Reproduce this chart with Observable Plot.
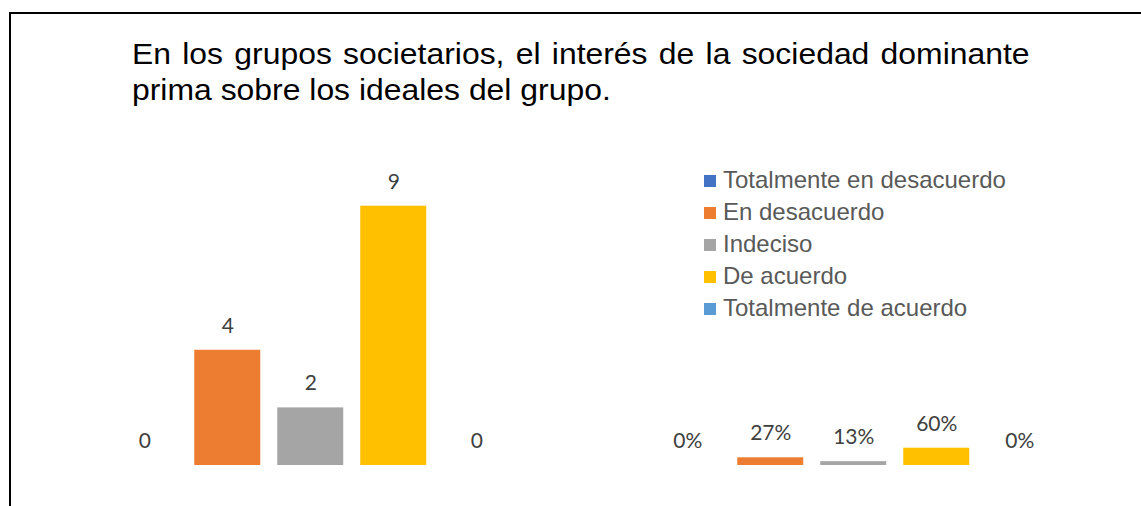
<!DOCTYPE html>
<html>
<head>
<meta charset="utf-8">
<script src="https://cdn.jsdelivr.net/npm/d3@7"></script>
<script src="https://cdn.jsdelivr.net/npm/@observablehq/plot@0.6"></script>
<style>
  html, body { margin: 0; padding: 0; background: #fff; }
  #wrap { position: relative; width: 1141px; height: 506px; overflow: hidden; background: #fff; }
  #frame { position: absolute; left: 9px; top: 12px; width: 1200px; height: 600px; border: 2px solid #000; box-sizing: border-box; }
  #title { position: absolute; left: 132px; top: 36px; width: 816px; font-family: "Liberation Sans", Arial, sans-serif; font-size: 29px; line-height: 36px; color: #000; text-align: justify; text-align-last: left; transform: scaleX(1.1); transform-origin: 0 0; }
  #chart { position: absolute; left: 0; top: 120px; }
  #legend { position: absolute; left: 704px; top: 164px; font-family: "Liberation Sans", Arial, sans-serif; font-size: 24px; color: #595959; }
  .row { height: 32px; display: flex; align-items: center; white-space: nowrap; }
  .sw { width: 12px; height: 12px; margin-right: 7px; flex: none; margin-top: 1px; }
</style>
</head>
<body>
<div id="wrap">
  <div id="frame"></div>
  <div id="title">En los grupos societarios, el interés de la sociedad dominante prima sobre los ideales del grupo.</div>
  <div id="chart"></div>
  <div id="legend"></div>
</div>
<script>
const categories = ["Totalmente en desacuerdo", "En desacuerdo", "Indeciso", "De acuerdo", "Totalmente de acuerdo"];
const colors = ["#4472C4", "#ED7D31", "#A5A5A5", "#FFC000", "#5B9BD5"];
const counts = [0, 4, 2, 9, 0];
const percents = [0, 0.267, 0.133, 0.60, 0];
const panels = ["Frecuencia", "Porcentaje"];

const data = [];
categories.forEach((c, i) => {
  data.push({panel: panels[0], cat: c, value: counts[i], label: String(counts[i])});
});
categories.forEach((c, i) => {
  data.push({panel: panels[1], cat: c, value: percents[i], label: d3.format(".0%")(percents[i])});
});

const chart = Plot.plot({
  width: 1141,
  height: 386,
  marginLeft: 100.75,
  marginRight: 78.75,
  marginTop: 85.7,
  marginBottom: 41,
  style: {background: "transparent", overflow: "visible"},
  fx: {domain: panels, paddingInner: 0.2325, paddingOuter: 0, axis: null},
  x: {domain: categories, paddingInner: 0.21, paddingOuter: 0.105, axis: null},
  y: {domain: [0, 9], axis: null},
  color: {domain: categories, range: colors},
  marks: [
    Plot.barY(data, {fx: "panel", x: "cat", y: "value", fill: "cat"}),
    Plot.text(data, {fx: "panel", x: "cat", y: "value", text: "label", lineAnchor: "bottom", dy: -17.5, fontSize: 21, fill: "#404040", fontFamily: "Lato, 'Open Sans', sans-serif"})
  ]
});
document.getElementById("chart").appendChild(chart);

const legend = document.getElementById("legend");
categories.forEach((c, i) => {
  const row = document.createElement("div");
  row.className = "row";
  const sw = document.createElement("span");
  sw.className = "sw";
  sw.style.background = colors[i];
  const tx = document.createElement("span");
  tx.textContent = c;
  row.appendChild(sw);
  row.appendChild(tx);
  legend.appendChild(row);
});
</script>
</body>
</html>
